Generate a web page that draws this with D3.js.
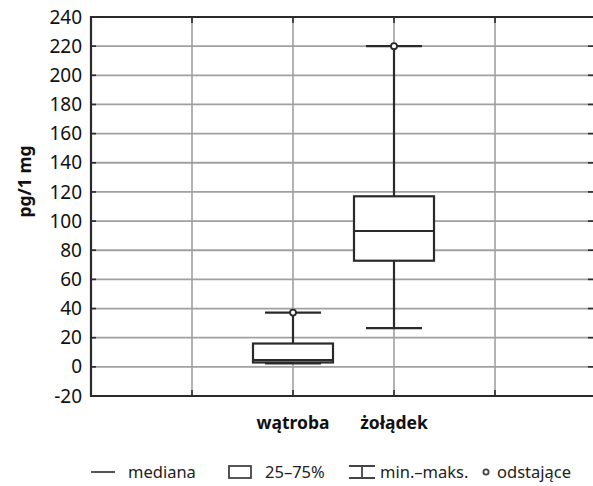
<!DOCTYPE html>
<html><head><meta charset="utf-8">
<script src="https://cdn.jsdelivr.net/npm/d3@7"></script>
<style>body{margin:0;background:#fff}svg{display:block}</style>
</head><body>
<script>
const categories = ["wątroba", "żołądek"];
const minVals = [2.3, 26.5];
const q1Vals = [3, 72.8];
const medianVals = [4.6, 93.2];
const q3Vals = [16, 117];
const maxVals = [37.2, 220];
const outlierVals = [[37.2], [220]];
const yTicks = [-20, 0, 20, 40, 60, 80, 100, 120, 140, 160, 180, 200, 220, 240];
const legendLabels = ["mediana", "25–75%", "min.–maks.", "odstające"];
const yLabel = "pg/1 mg";

const W = 593, H = 486;
const svg = d3.select("body").append("svg").attr("width", W).attr("height", H);
const font = "'Noto Sans', 'Open Sans', sans-serif";
const dark = "#2a2a2a", grid = "#a0a0a0";

const L = 91, R = 596, T = 17, B = 396;
const x = d3.scaleLinear().domain([0, 5]).range([L, R]);
const catPos = i => x(i + 2);
const y = d3.scaleLinear().domain([-20, 240]).range([B, T]);

// grid
svg.append("g").selectAll("line").data(yTicks.slice(1, -1)).join("line")
  .attr("x1", L).attr("x2", R).attr("y1", d => y(d)).attr("y2", d => y(d))
  .attr("stroke", grid).attr("stroke-width", 1.8);
svg.append("g").selectAll("line").data([1, 2, 3, 4]).join("line")
  .attr("x1", d => x(d)).attr("x2", d => x(d)).attr("y1", T).attr("y2", B)
  .attr("stroke", grid).attr("stroke-width", 1.6);

// inner ticks
svg.append("g").selectAll("line").data(yTicks.slice(1, -1)).join("line")
  .attr("x1", L).attr("x2", L + 5).attr("y1", d => y(d)).attr("y2", d => y(d))
  .attr("stroke", dark).attr("stroke-width", 1.6);
svg.append("g").selectAll("line").data(yTicks.slice(1, -1)).join("line")
  .attr("x1", 588).attr("x2", 596).attr("y1", d => y(d)).attr("y2", d => y(d))
  .attr("stroke", dark).attr("stroke-width", 1.6);
svg.append("g").selectAll("line").data([1, 2, 3, 4]).join("line")
  .attr("x1", d => x(d)).attr("x2", d => x(d)).attr("y1", T).attr("y2", T + 6)
  .attr("stroke", dark).attr("stroke-width", 1.6);
svg.append("g").selectAll("line").data([1, 2, 3, 4]).join("line")
  .attr("x1", d => x(d)).attr("x2", d => x(d)).attr("y1", B - 6).attr("y2", B)
  .attr("stroke", dark).attr("stroke-width", 1.6);

// frame (top, left, bottom)
svg.append("path")
  .attr("d", `M${R},${T}H${L}V${B}H${R}`)
  .attr("fill", "none").attr("stroke", dark).attr("stroke-width", 2.2);

// y axis labels
const yAxis = d3.axisLeft(y).tickValues(yTicks).tickSize(0).tickPadding(9).tickFormat(d => String(d));
const ga = svg.append("g").attr("transform", `translate(${L},0)`).call(yAxis);
ga.select(".domain").remove();
ga.selectAll("text").attr("font-family", font).attr("font-size", 19).attr("fill", "#111");

svg.append("text").attr("transform", `translate(31,${(T + B) / 2 - 25}) rotate(-90)`)
  .attr("text-anchor", "middle").attr("font-family", font).attr("font-weight", "bold")
  .attr("font-size", 17.5).attr("fill", "#111").text(yLabel);

// boxes
const boxW = 80, capW = 56;
const g = svg.append("g");
categories.forEach((c, i) => {
  const cx = catPos(i);
  g.append("line").attr("x1", cx).attr("x2", cx).attr("y1", y(maxVals[i])).attr("y2", y(q3Vals[i]))
    .attr("stroke", dark).attr("stroke-width", 2.2);
  g.append("line").attr("x1", cx).attr("x2", cx).attr("y1", y(q1Vals[i])).attr("y2", y(minVals[i]))
    .attr("stroke", dark).attr("stroke-width", 2.2);
  [maxVals[i], minVals[i]].forEach(v => {
    g.append("line").attr("x1", cx - capW / 2).attr("x2", cx + capW / 2).attr("y1", y(v)).attr("y2", y(v))
      .attr("stroke", dark).attr("stroke-width", 2.2);
  });
  g.append("rect").attr("x", cx - boxW / 2).attr("width", boxW)
    .attr("y", y(q3Vals[i])).attr("height", y(q1Vals[i]) - y(q3Vals[i]))
    .attr("fill", "#fff").attr("stroke", dark).attr("stroke-width", 2.2);
  g.append("line").attr("x1", cx - boxW / 2).attr("x2", cx + boxW / 2)
    .attr("y1", y(medianVals[i])).attr("y2", y(medianVals[i]))
    .attr("stroke", dark).attr("stroke-width", 2.2);
  outlierVals[i].forEach(v => {
    g.append("circle").attr("cx", cx).attr("cy", y(v)).attr("r", 3)
      .attr("fill", "#fff").attr("stroke", dark).attr("stroke-width", 1.8);
  });
  svg.append("text").attr("x", cx).attr("y", 429).attr("text-anchor", "middle")
    .attr("font-family", font).attr("font-weight", "bold").attr("font-size", 17.5)
    .attr("fill", "#111").text(c);
});

// legend
const ly = 472;
const lg = svg.append("g").attr("stroke", "#444").attr("stroke-width", 1.8).attr("fill", "none");
lg.append("line").attr("x1", 91).attr("x2", 115).attr("y1", ly).attr("y2", ly);
lg.append("rect").attr("x", 229).attr("y", ly - 6).attr("width", 22).attr("height", 12).attr("fill", "#fff");
lg.append("path").attr("d", `M349,${ly - 6}H375M362,${ly - 6}V${ly + 6}M349,${ly + 6}H375`);
lg.append("circle").attr("cx", 486).attr("cy", ly).attr("r", 2.6);
const lx = [128, 265, 380, 497];
svg.append("g").selectAll("text").data(legendLabels).join("text")
  .attr("x", (d, i) => lx[i]).attr("y", ly + 6)
  .attr("font-family", font).attr("font-size", 16.5).attr("fill", "#222").text(d => d);
</script>
</body></html>
